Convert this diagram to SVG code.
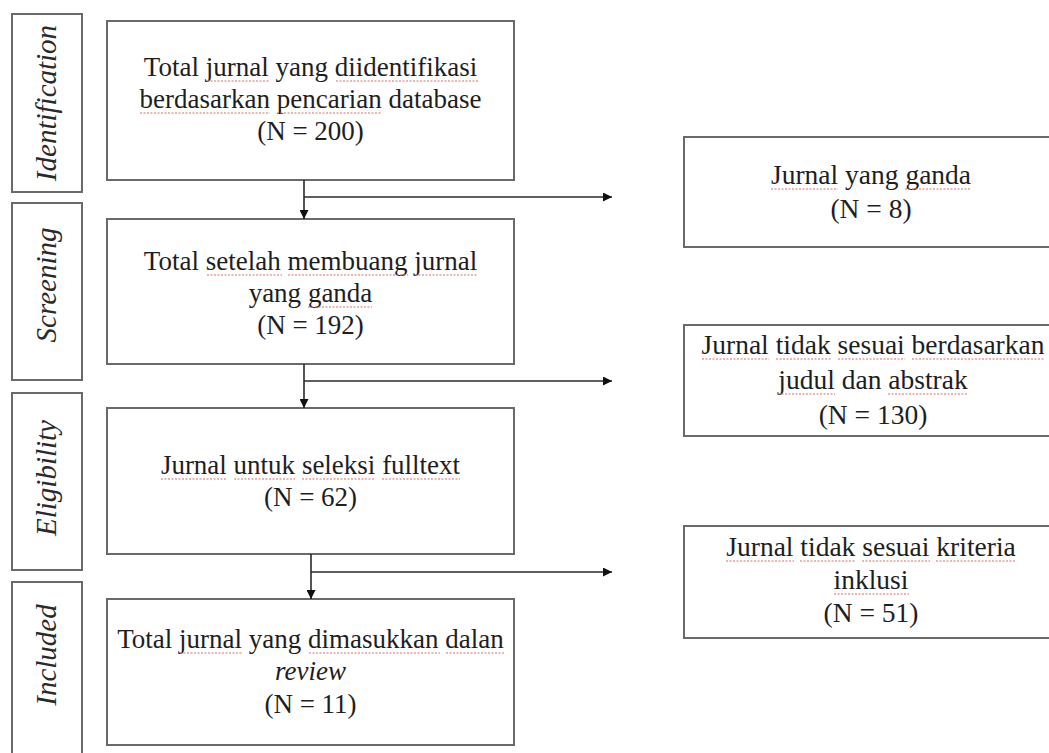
<svg xmlns="http://www.w3.org/2000/svg" width="1049" height="753" viewBox="0 0 1049 753">
<defs>
<style>
.box{fill:#fff;stroke:#6a6a6a;stroke-width:2}
.lbl{fill:#fff;stroke:#6a6a6a;stroke-width:2}
.t{font-family:"Liberation Serif","Times New Roman",serif;font-size:27px;fill:#1e1e1e;text-anchor:middle}
.tr{font-family:"Liberation Serif","Times New Roman",serif;font-size:27.5px;fill:#1e1e1e;text-anchor:middle}
.side{font-family:"Liberation Serif","Times New Roman",serif;font-size:29px;font-style:italic;fill:#2a2a2a;text-anchor:middle}
.con{fill:none;stroke:#2a2a2a;stroke-width:1.6}
.sq{fill:none;stroke:#e07878;stroke-width:1.4;stroke-dasharray:2 1.5;opacity:.75}
</style>
<marker id="ah" viewBox="0 0 10 10" refX="10" refY="5" markerWidth="9" markerHeight="9" markerUnits="userSpaceOnUse" orient="auto">
<path d="M0,0 L10,5 L0,10 z" fill="#111"/>
</marker>
</defs>
<rect width="1049" height="753" fill="#fff"/>

<g id="label-identification">
<rect class="lbl" x="12" y="14" width="70" height="178"/>
<text class="side" transform="translate(56,103) rotate(-90)">Identification</text>
</g>
<g id="label-screening">
<rect class="lbl" x="12" y="203" width="70" height="177"/>
<text class="side" transform="translate(56,285) rotate(-90)">Screening</text>
</g>
<g id="label-eligibility">
<rect class="lbl" x="12" y="393" width="70" height="177"/>
<text class="side" transform="translate(56,478) rotate(-90)">Eligibility</text>
</g>
<g id="label-included">
<rect class="lbl" x="12" y="582" width="70" height="185"/>
<text class="side" transform="translate(56,655) rotate(-90)">Included</text>
</g>

<g id="box-identified">
<rect class="box" x="107" y="21" width="407" height="159"/>
<text class="t" x="310.5" y="76">Total <tspan>jurnal</tspan> yang <tspan>diidentifikasi</tspan></text>
<text class="t" x="310.5" y="108"><tspan>berdasarkan</tspan> <tspan>pencarian</tspan> database</text>
<text class="t" x="310.5" y="140">(N = 200)</text>
</g>
<g id="box-screened">
<rect class="box" x="107" y="219" width="407" height="145"/>
<text class="t" x="310.5" y="270">Total <tspan>setelah</tspan> <tspan>membuang</tspan> <tspan>jurnal</tspan></text>
<text class="t" x="310.5" y="302">yang <tspan>ganda</tspan></text>
<text class="t" x="310.5" y="334">(N = 192)</text>
</g>
<g id="box-fulltext">
<rect class="box" x="107" y="408" width="407" height="146"/>
<text class="t" x="310.5" y="474"><tspan>Jurnal</tspan> <tspan>untuk</tspan> <tspan>seleksi</tspan> <tspan>fulltext</tspan></text>
<text class="t" x="310.5" y="506">(N = 62)</text>
</g>
<g id="box-included">
<rect class="box" x="107" y="599" width="407" height="146"/>
<text class="t" x="310.5" y="648">Total <tspan>jurnal</tspan> yang <tspan>dimasukkan</tspan> <tspan>dalan</tspan></text>
<text class="t" x="310.5" y="680" font-style="italic">review</text>
<text class="t" x="310.5" y="713">(N = 11)</text>
</g>

<g id="box-duplicates">
<rect class="box" x="684" y="137" width="380" height="110"/>
<text class="tr" x="871" y="184"><tspan>Jurnal</tspan> yang <tspan>ganda</tspan></text>
<text class="tr" x="871" y="218">(N = 8)</text>
</g>
<g id="box-excluded-abstract">
<rect class="box" x="684" y="325" width="380" height="111"/>
<text class="tr" x="873" y="354"><tspan>Jurnal</tspan> <tspan>tidak</tspan> <tspan>sesuai</tspan> <tspan>berdasarkan</tspan></text>
<text class="tr" x="873" y="389"><tspan>judul</tspan> dan <tspan>abstrak</tspan></text>
<text class="tr" x="873" y="424">(N = 130)</text>
</g>
<g id="box-excluded-criteria">
<rect class="box" x="684" y="526" width="380" height="112"/>
<text class="tr" x="871" y="556"><tspan>Jurnal</tspan> <tspan>tidak</tspan> <tspan>sesuai</tspan> <tspan>kriteria</tspan></text>
<text class="tr" x="871" y="589"><tspan>inklusi</tspan></text>
<text class="tr" x="871" y="622">(N = 51)</text>
</g>

<g id="spellcheck-underlines">
<path class="sq" d="M207,81H270 M336,81H478 M140,113H270 M277,113H382"/>
<path class="sq" d="M207,275H282 M288,275H408 M415,275H478 M308,307H372"/>
<path class="sq" d="M161,479H227 M234,479H295 M302,479H375 M382,479H460"/>
<path class="sq" d="M180,653H243 M309,653H440 M446,653H505"/>
<path class="sq" d="M771,189H838 M905,189H971"/>
<path class="sq" d="M702,359H769 M776,359H831 M838,359H905 M912,359H1045 M778,394H835 M888,394H968"/>
<path class="sq" d="M726,561H794 M800,561H855 M862,561H930 M936,561H1016 M834,594H909"/>
</g>

<g id="connectors">
<path class="con" d="M304,180 V219" marker-end="url(#ah)"/>
<path class="con" d="M304,197 H612" marker-end="url(#ah)"/>
<path class="con" d="M304,364 V408" marker-end="url(#ah)"/>
<path class="con" d="M304,381 H612" marker-end="url(#ah)"/>
<path class="con" d="M311,554 V599" marker-end="url(#ah)"/>
<path class="con" d="M311,572 H612" marker-end="url(#ah)"/>
</g>
</svg>
